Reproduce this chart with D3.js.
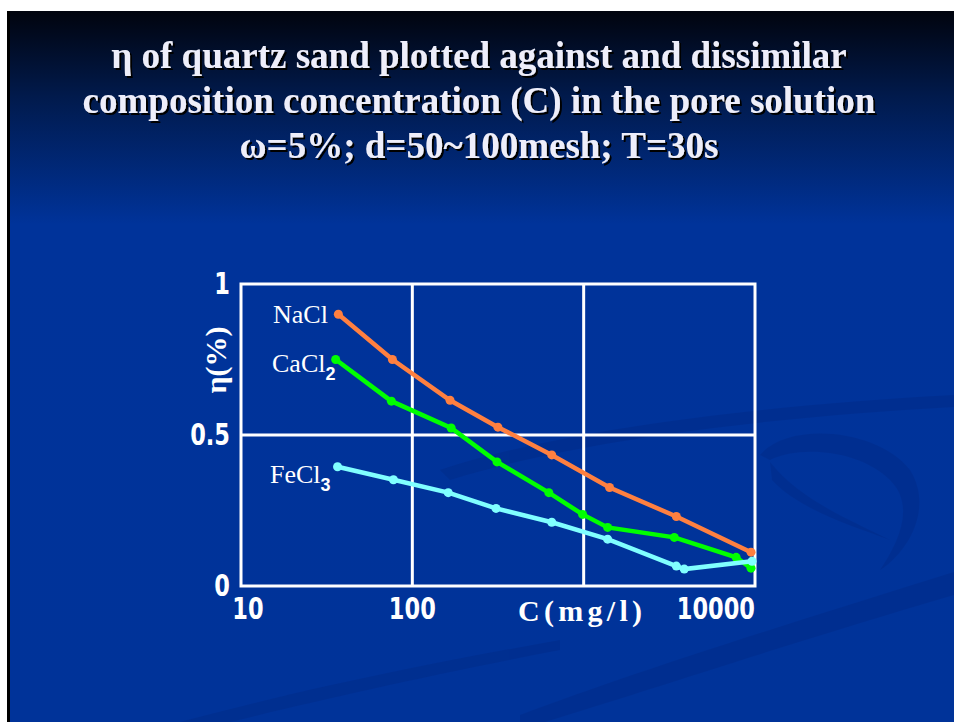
<!DOCTYPE html>
<html>
<head>
<meta charset="utf-8">
<script src="https://cdn.jsdelivr.net/npm/d3@7"></script>
<style>
  body { margin: 0; background: #fff; }
  svg { display: block; }
</style>
</head>
<body>
<script>
// values
var titleLines = [
   "\u03b7 of quartz sand plotted against and dissimilar",
   "composition concentration (C) in the pore solution",
   "\u03c9=5%; d=50~100mesh; T=30s"
];
var xTicks = [10, 100, 1000, 10000];
var xTickLabels = ["10", "100", "", "10000"];
var yTicks = [0, 0.5, 1];
var yTickLabels = ["0", "0.5", "1"];

var seriesNames = ["NaCl", "CaCl", "FeCl"];
var seriesSubs = ["", "2", "3"];
var seriesColors = ["#ff8040", "#00ff00", "#80ffff"];

var naclC = [37, 76.5, 166, 316, 651, 1416, 3474, 9480];
var naclEta = [0.90, 0.75, 0.615, 0.526, 0.434, 0.326, 0.230, 0.112];
var cacl2C = [35.7, 75.5, 168.6, 312, 626, 986, 1380, 3380, 7760, 9480];
var cacl2Eta = [0.75, 0.612, 0.523, 0.411, 0.309, 0.237, 0.194, 0.161, 0.095, 0.059];
var fecl3C = [36.6, 77.6, 162, 308, 651, 1380, 3474, 3865, 9610];
var fecl3Eta = [0.395, 0.352, 0.309, 0.257, 0.211, 0.155, 0.066, 0.056, 0.082];

var width = 954, height = 722;
var svg = d3.select("body").append("svg")
   .attr("width", width)
   .attr("height", height);

// slide background
var defs = svg.append("defs");
var grad = defs.append("linearGradient")
   .attr("id", "bg")
   .attr("x1", 0).attr("y1", 0).attr("x2", 0).attr("y2", 1);
grad.append("stop").attr("offset", "0").attr("stop-color", "#01040e");
grad.append("stop").attr("offset", "0.12").attr("stop-color", "#011a4c");
grad.append("stop").attr("offset", "0.3").attr("stop-color", "#00339a");
grad.append("stop").attr("offset", "1").attr("stop-color", "#003399");

var shadow = defs.append("filter").attr("id", "shadow")
   .attr("x", "-5%").attr("y", "-20%").attr("width", "110%").attr("height", "140%");
shadow.append("feDropShadow")
   .attr("dx", 2).attr("dy", 2).attr("stdDeviation", 0.6)
   .attr("flood-color", "#000").attr("flood-opacity", 1);

svg.append("rect")
   .attr("x", 7).attr("y", 11)
   .attr("width", width - 7).attr("height", height - 11)
   .style("fill", "url(#bg)");
svg.append("rect")
   .attr("x", 7).attr("y", 11)
   .attr("width", 3).attr("height", height - 11)
   .style("fill", "#000");

// faint swirl in the background
var swirl = svg.append("g").style("fill", "#002b88").style("opacity", 0.5);
swirl.append("path")
   .attr("d", "M440,470 C560,430 760,405 954,395 L954,407 C760,418 580,440 450,480 Z");
swirl.append("path")
   .attr("d", "M760,455 C790,420 880,430 910,470 C935,510 905,555 880,570 C900,540 915,505 890,480 C860,450 800,445 770,460 Z");
swirl.append("path")
   .attr("d", "M770,462 C800,500 850,520 890,540 C850,525 800,510 772,480 Z");
swirl.append("path")
   .attr("d", "M520,715 C640,670 800,620 954,572 L954,595 C800,640 650,690 545,722 L520,722 Z");
swirl.append("path")
   .attr("d", "M180,722 C300,690 420,665 560,640 L560,650 C430,675 320,700 230,722 Z");

// title
var title = svg.append("g")
   .style("font-family", "'Liberation Serif', 'Times New Roman', serif")
   .style("font-weight", "bold")
   .style("font-size", "37px")
   .attr("text-anchor", "middle")
   .attr("filter", "url(#shadow)");
title.selectAll("text")
   .data(titleLines)
   .enter().append("text")
   .attr("x", 479)
   .attr("y", function (d, i) { return 68 + i * 45; })
   .style("fill", "#eeeefa")
   .text(function (d) { return d; });

// chart
var x = d3.scaleLog().domain([10, 10000]).range([241, 755]);
var y = d3.scaleLinear().domain([0, 1]).range([586, 284]);

var chart = svg.append("g");

chart.selectAll("line.vgrid")
   .data(xTicks.slice(1, 3))
   .enter().append("line")
   .attr("class", "vgrid")
   .attr("x1", function (d) { return x(d); })
   .attr("x2", function (d) { return x(d); })
   .attr("y1", y(0)).attr("y2", y(1))
   .style("stroke", "#fff").style("stroke-width", 3);
chart.selectAll("line.hgrid")
   .data([0.5])
   .enter().append("line")
   .attr("class", "hgrid")
   .attr("x1", x(10)).attr("x2", x(10000))
   .attr("y1", function (d) { return y(d); })
   .attr("y2", function (d) { return y(d); })
   .style("stroke", "#fff").style("stroke-width", 3);
chart.append("rect")
   .attr("x", x(10)).attr("y", y(1))
   .attr("width", x(10000) - x(10)).attr("height", y(0) - y(1))
   .style("fill", "none").style("stroke", "#fff").style("stroke-width", 3);

// tick labels (stretched a bit taller, like the bitmap font on the slide)
var tickFont = "'DejaVu Sans Condensed', 'Liberation Sans', sans-serif";
chart.selectAll("text.ylab")
   .data(yTicks)
   .enter().append("text")
   .attr("class", "ylab")
   .attr("transform", function (d) { return "translate(230," + (y(d) + 10) + ") scale(1,1.2)"; })
   .attr("text-anchor", "end")
   .style("font-family", tickFont).style("font-weight", "bold")
   .style("font-size", "25px").style("fill", "#fff")
   .text(function (d, i) { return yTickLabels[i]; });

chart.selectAll("text.xlab")
   .data(xTicks)
   .enter().append("text")
   .attr("class", "xlab")
   .attr("transform", function (d, i) {
      return "translate(" + (i === 0 ? x(d) + 7 : x(d)) + ",619) scale(1,1.2)";
   })
   .attr("text-anchor", function (d, i) { return i === xTicks.length - 1 ? "end" : "middle"; })
   .style("font-family", tickFont).style("font-weight", "bold")
   .style("font-size", "25px").style("fill", "#fff")
   .text(function (d, i) { return xTickLabels[i]; });

// axis titles
chart.append("text")
   .attr("x", 518).attr("y", 621)
   .attr("textLength", 124).attr("lengthAdjust", "spacing")
   .style("font-family", "'Liberation Serif', serif")
   .style("font-weight", "bold")
   .style("font-size", "30px").style("fill", "#fff")
   .text("C(mg/l)");
chart.append("text")
   .attr("transform", "translate(226,360) rotate(-90)")
   .attr("text-anchor", "middle")
   .style("font-family", "'Liberation Serif', serif")
   .style("font-weight", "bold")
   .style("font-size", "30px").style("fill", "#fff")
   .text("\u03b7(%)");

// series
var series = [
   { c: naclC, eta: naclEta },
   { c: cacl2C, eta: cacl2Eta },
   { c: fecl3C, eta: fecl3Eta }
];
var line = d3.line()
   .x(function (d) { return x(d[0]); })
   .y(function (d) { return y(d[1]); });

series.forEach(function (s, k) {
   var pts = s.c.map(function (c, i) { return [c, s.eta[i]]; });
   var g = chart.append("g");
   g.append("path")
      .attr("d", line(pts))
      .style("fill", "none")
      .style("stroke", seriesColors[k])
      .style("stroke-width", 4.5);
   g.selectAll("circle")
      .data(pts)
      .enter().append("circle")
      .attr("cx", function (d) { return x(d[0]); })
      .attr("cy", function (d) { return y(d[1]); })
      .attr("r", 4.5)
      .style("fill", seriesColors[k]);
});

// series labels
var labelPos = [[273, 323], [272, 372], [270, 483]];
seriesNames.forEach(function (n, k) {
   var t = chart.append("text")
      .attr("x", labelPos[k][0]).attr("y", labelPos[k][1])
      .style("font-family", "'Liberation Serif', serif")
      .style("font-size", "26px").style("fill", "#fff")
      .text(n);
   if (seriesSubs[k]) {
      t.append("tspan")
         .attr("dy", 8)
         .style("font-family", "'Liberation Sans', sans-serif")
         .style("font-weight", "bold")
         .style("font-size", "18px")
         .text(seriesSubs[k]);
   }
});
</script>
</body>
</html>
